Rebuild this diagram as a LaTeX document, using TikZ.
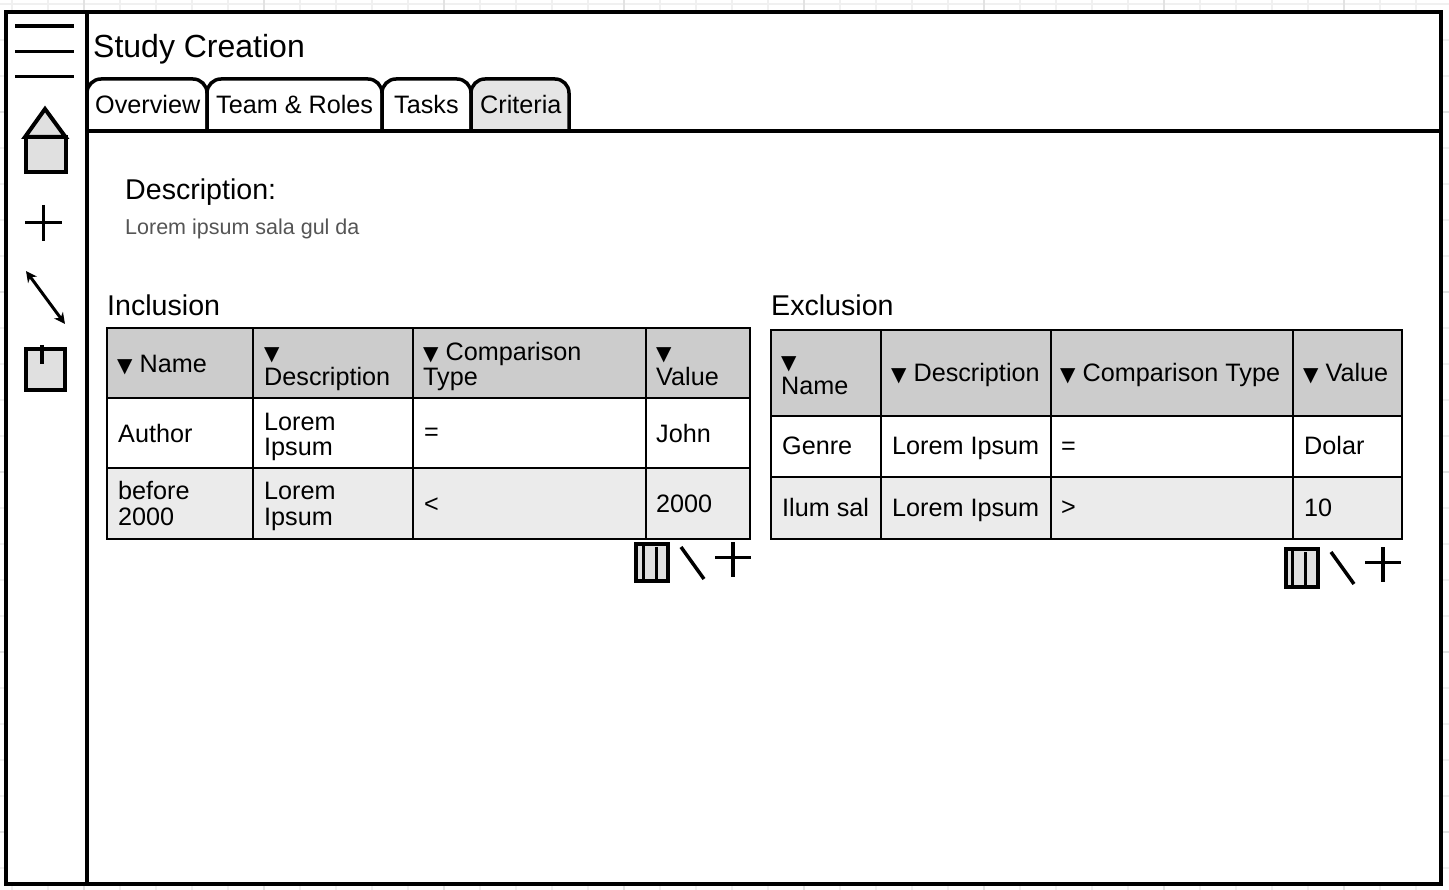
\documentclass[tikz,border=0pt]{standalone}
\usepackage{fontspec}
\usetikzlibrary{arrows.meta}
\setmainfont{Liberation Sans}
\newfontfamily\dvfont{DejaVu Sans}
\definecolor{hdr}{HTML}{CCCCCC}
\definecolor{alt}{HTML}{EBEBEB}
\definecolor{icon}{HTML}{E0E0E0}
\definecolor{tabon}{HTML}{E5E5E5}
\definecolor{gridminor}{HTML}{F0F0F0}
\definecolor{gridmajor}{HTML}{E2E2E2}
\definecolor{mutetxt}{HTML}{555555}
\newcommand{\tri}{{\dvfont\fontsize{20}{25}\selectfont ▼}}
\tikzset{
 x=1pt,y=-1pt,
 txt/.style={inner sep=0pt,anchor=base west,yshift=-1pt,font=\fontsize{25.2}{25}\selectfont,align=left},
 titletxt/.style={txt,font=\fontsize{32}{25}\selectfont},
 headtxt/.style={txt,font=\fontsize{28.6}{25}\selectfont},
 mutedtxt/.style={txt,font=\fontsize{21.5}{25}\selectfont,text=mutetxt},
 heavy/.style={line width=3.5pt,draw=black},
 icoline/.style={line width=3.5pt,draw=black},
 icobox/.style={line width=4pt,draw=black,fill=icon},
 tabshape/.style={line width=3.5pt,draw=black,rounded corners=14pt},
 cellbox/.style={line width=2pt,draw=black},
}
\begin{document}
\begin{tikzpicture}
\useasboundingbox (0,0) rectangle (1449,890);
\fill[white] (0,0) rectangle (1449,890);
% background grid
\foreach \i in {0,...,40} \draw[gridminor,line width=1.5pt] ({12+36*\i},0) -- ({12+36*\i},890);
\foreach \i in {0,...,24} \draw[gridminor,line width=1.5pt] (0,{4+36*\i}) -- (1449,{4+36*\i});
\foreach \i in {0,...,7} \draw[gridmajor,line width=1.5pt] ({84+180*\i},0) -- ({84+180*\i},890);
\foreach \i in {0,...,4} \draw[gridmajor,line width=1.5pt] (0,{112+180*\i}) -- (1449,{112+180*\i});
% frame
\draw[line width=4pt,fill=white] (5.5,12) rectangle (1441,883.5);
\draw[heavy] (87,12) -- (87,883.5);
% tabs
\draw[tabshape] (87,131) -- (87,79) -- (207,79) -- (207,131);
\draw[tabshape] (207,131) -- (207,79) -- (382,79) -- (382,131);
\draw[tabshape] (382,131) -- (382,79) -- (471,79) -- (471,131);
\draw[tabshape,fill=tabon] (471,131) -- (471,79) -- (569,79) -- (569,131);
\draw[heavy] (87,131) -- (1441,131);
\node[titletxt] (title) at (93,57) {Study Creation};
\node[txt] (tab1) at (95,113) {Overview};
\node[txt] (tab2) at (216,113) {Team \& Roles};
\node[txt] (tab3) at (394,113) {Tasks};
\node[txt] (tab4) at (480,113) {Criteria};
% sidebar icons
\draw[icoline] (15,26) -- (74,26);
\draw[icoline] (15,51.5) -- (74,51.5);
\draw[icoline] (15,76.5) -- (74,76.5);
\draw[icobox,line join=miter] (25,137) -- (45,109) -- (65.5,137) -- cycle;
\draw[icobox] (25.5,137) rectangle (65.5,172.5);
\draw[icoline] (25,222.5) -- (62,222.5);
\draw[icoline] (43.5,205) -- (43.5,241);
\draw[line width=3pt,{Stealth[length=11pt,width=11pt]}-{Stealth[length=11pt,width=11pt]}] (26,271) -- (65,324);
\draw[icobox] (25.5,349) rectangle (65,390);
\draw[icoline] (42,345) -- (42,364);
% description
\node[headtxt] (desc) at (125,199) {Description:};
\node[mutedtxt] (lorem) at (125,234) {Lorem ipsum sala gul da};
\node[headtxt] (incl) at (107,315) {Inclusion};
\node[headtxt] (excl) at (771,315) {Exclusion};
% inclusion table
\fill[hdr] (107,328) rectangle (750,398);
\fill[alt] (107,468) rectangle (750,539);
\draw[cellbox] (107,328) rectangle (750,539);
\draw[cellbox] (107,398) -- (750,398);
\draw[cellbox] (107,468) -- (750,468);
\foreach \X in {253,413,646} \draw[cellbox] (\X,328) -- (\X,539);
\node[txt] (a1) at (117,372) {\tri{} Name};
\node[txt] (a2) at (264,385) {\tri\\Description};
\node[txt] (a3) at (423,385) {\tri{} Comparison\\Type};
\node[txt] (a4) at (656,385) {\tri\\Value};
\node[txt] (b1) at (118,442) {Author};
\node[txt] (b2) at (264,455) {Lorem\\Ipsum};
\node[txt] (b3) at (424,440) {=};
\node[txt] (b4) at (656,442) {John};
\node[txt] (c1) at (118,524) {before\\2000};
\node[txt] (c2) at (264,524) {Lorem\\Ipsum};
\node[txt] (c3) at (424,511) {<};
\node[txt] (c4) at (656,511) {2000};
% exclusion table
\fill[hdr] (771,330) rectangle (1402,416);
\fill[alt] (771,477) rectangle (1402,539);
\draw[cellbox] (771,330) rectangle (1402,539);
\draw[cellbox] (771,416) -- (1402,416);
\draw[cellbox] (771,477) -- (1402,477);
\foreach \X in {881,1051,1293} \draw[cellbox] (\X,330) -- (\X,539);
\node[txt] (d1) at (781,394) {\tri\\Name};
\node[txt] (d2) at (891,381) {\tri{} Description};
\node[txt] (d3) at (1060,381) {\tri{} Comparison Type};
\node[txt] (d4) at (1303,381) {\tri{} Value};
\node[txt] (e1) at (782,454) {Genre};
\node[txt] (e2) at (892,454) {Lorem Ipsum};
\node[txt] (e3) at (1061,454) {=};
\node[txt] (e4) at (1304,454) {Dolar};
\node[txt] (f1) at (782,515) {Ilum sal};
\node[txt] (f2) at (892,515) {Lorem Ipsum};
\node[txt] (f3) at (1061,514) {>};
\node[txt] (f4) at (1304,515) {10};
% inclusion tools
\draw[icobox] (636,544) rectangle (668,581);
\draw[icoline,line width=3pt] (643,545) -- (643,581);
\draw[icoline,line width=3pt] (656,547) -- (656,581);
\draw[icoline] (681,547) -- (704,579);
\draw[icoline] (715,557.5) -- (751,557.5);
\draw[icoline] (733,542) -- (733,577);
% exclusion tools
\draw[icobox] (1286,549) rectangle (1318,587);
\draw[icoline,line width=3pt] (1292.5,550) -- (1292.5,587);
\draw[icoline,line width=3pt] (1305.5,552) -- (1305.5,587);
\draw[icoline] (1331,552) -- (1354,584);
\draw[icoline] (1365,562.5) -- (1401,562.5);
\draw[icoline] (1383,547) -- (1383,582);
\end{tikzpicture}
\end{document}
